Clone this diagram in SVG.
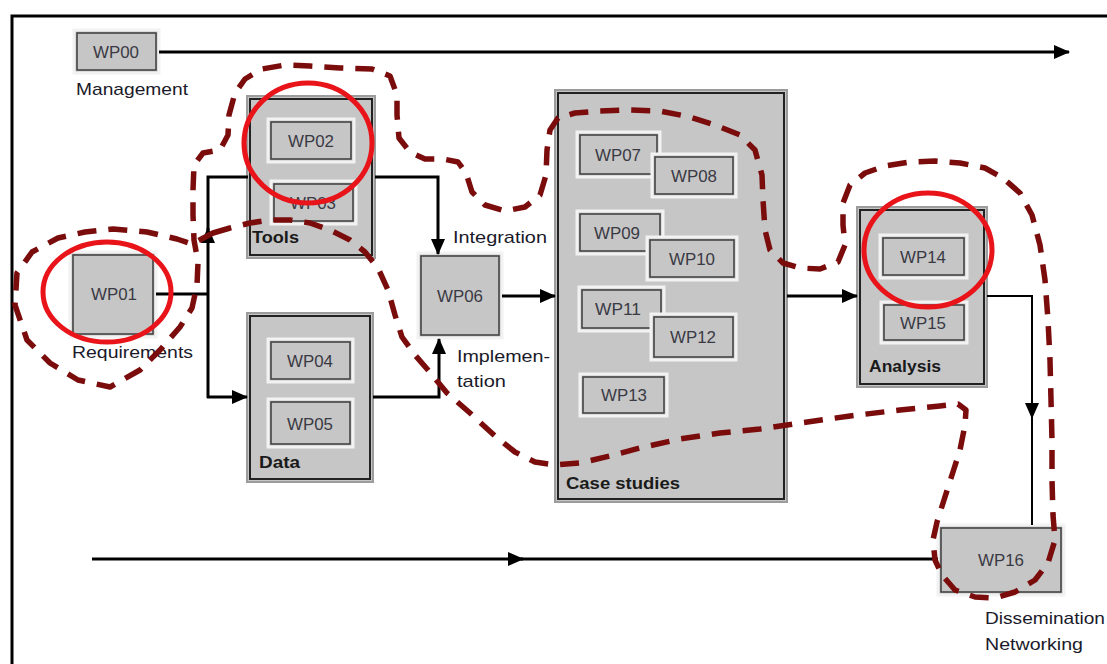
<svg xmlns="http://www.w3.org/2000/svg" width="1107" height="664" viewBox="0 0 1107 664">
<defs>
<marker id="ah" markerUnits="userSpaceOnUse" markerWidth="16" markerHeight="14" viewBox="0 0 16 14" refX="15" refY="7" orient="auto"><path d="M0,0 L16,7 L0,14 z" fill="#000"/></marker>
<style>
.cont{fill:#c6c6c6;stroke:#9c9c9c;stroke-width:2}
.cin{fill:none;stroke:#222;stroke-width:2}
.wp{fill:#c6c6c6;stroke:#f2f2f2;stroke-width:3}
.wpi{fill:none;stroke:#444;stroke-width:1.6}
.wt{font-family:"Liberation Sans",Arial,sans-serif;font-size:17px;fill:#3a3a44;text-anchor:middle}
.lb{font-family:"Liberation Sans",Arial,sans-serif;font-size:17px;fill:#1a1a2a}
.bl{font-family:"Liberation Sans",Arial,sans-serif;font-size:17px;font-weight:bold;fill:#1a1a1a}
.ln{fill:none;stroke:#000;stroke-width:3}
.thin{fill:none;stroke:#000;stroke-width:2}
.dash{fill:none;stroke:#7a0c0c;stroke-width:5.5;stroke-dasharray:19 12;stroke-linejoin:round}
.ring{fill:none;stroke:#e8141a;stroke-width:5}
</style>
</defs>
<rect width="1107" height="664" fill="#fff"/>
<path d="M12,664 L12,16 L1107,16" fill="none" stroke="#000" stroke-width="3"/>

<g id="wp00"><rect class="wp" x="74" y="30" width="85" height="43"/><rect class="wpi" x="77" y="33" width="79" height="37"/><text class="wt" x="116" y="58" textLength="46" lengthAdjust="spacingAndGlyphs">WP00</text><text class="lb" x="76" y="95" textLength="112" lengthAdjust="spacingAndGlyphs">Management</text></g>

<g id="wp01"><rect class="wp" x="70" y="252" width="86" height="85"/><rect class="wpi" x="73" y="255" width="80" height="79"/><text class="wt" x="114" y="300" textLength="46" lengthAdjust="spacingAndGlyphs">WP01</text><text class="lb" x="72" y="358" textLength="121" lengthAdjust="spacingAndGlyphs">Requirements</text></g>

<g id="tools"><rect class="cont" x="247" y="96" width="128" height="162"/><rect class="cin" x="250" y="99" width="122" height="156"/><text class="bl" x="252" y="243" textLength="47" lengthAdjust="spacingAndGlyphs">Tools</text>
<g id="wp02"><rect class="wp" x="268" y="119" width="86" height="43"/><rect class="wpi" x="271" y="122" width="80" height="37"/><text class="wt" x="311" y="147" textLength="46" lengthAdjust="spacingAndGlyphs">WP02</text></g>
<g id="wp03"><rect class="wp" x="271" y="181" width="85" height="43"/><rect class="wpi" x="274" y="184" width="79" height="37"/><text class="wt" x="313" y="209" textLength="46" lengthAdjust="spacingAndGlyphs">WP03</text></g></g>

<g id="data"><rect class="cont" x="247" y="313" width="126" height="169"/><rect class="cin" x="250" y="316" width="120" height="163" stroke="#777"/><text class="bl" x="259" y="468" textLength="41" lengthAdjust="spacingAndGlyphs">Data</text>
<g id="wp04"><rect class="wp" x="268" y="339" width="85" height="43"/><rect class="wpi" x="271" y="342" width="79" height="37"/><text class="wt" x="310" y="367" textLength="46" lengthAdjust="spacingAndGlyphs">WP04</text></g>
<g id="wp05"><rect class="wp" x="268" y="399" width="85" height="48"/><rect class="wpi" x="271" y="402" width="79" height="42"/><text class="wt" x="310" y="430" textLength="46" lengthAdjust="spacingAndGlyphs">WP05</text></g></g>

<g id="wp06"><rect class="wp" x="418" y="253" width="84" height="85"/><rect class="wpi" x="421" y="256" width="78" height="79"/><text class="wt" x="460" y="302" textLength="46" lengthAdjust="spacingAndGlyphs">WP06</text>
<text class="lb" x="453" y="243" textLength="94" lengthAdjust="spacingAndGlyphs">Integration</text><text class="lb" x="457" y="362" textLength="93" lengthAdjust="spacingAndGlyphs">Implemen-</text><text class="lb" x="457" y="387" textLength="49" lengthAdjust="spacingAndGlyphs">tation</text></g>

<g id="case"><rect class="cont" x="555" y="90" width="232" height="412"/><rect class="cin" x="558" y="93" width="226" height="406" stroke="#555"/><text class="bl" x="566" y="489" textLength="114" lengthAdjust="spacingAndGlyphs">Case studies</text>
<g id="wp07"><rect class="wp" x="577" y="132" width="83" height="45"/><rect class="wpi" x="580" y="135" width="77" height="39"/><text class="wt" x="618" y="161" textLength="46" lengthAdjust="spacingAndGlyphs">WP07</text></g>
<g id="wp08"><rect class="wp" x="652" y="154" width="84" height="43"/><rect class="wpi" x="655" y="157" width="78" height="37"/><text class="wt" x="694" y="182" textLength="46" lengthAdjust="spacingAndGlyphs">WP08</text></g>
<g id="wp09"><rect class="wp" x="577" y="211" width="86" height="43"/><rect class="wpi" x="580" y="214" width="80" height="37"/><text class="wt" x="617" y="239" textLength="46" lengthAdjust="spacingAndGlyphs">WP09</text></g>
<g id="wp10"><rect class="wp" x="647" y="237" width="90" height="43"/><rect class="wpi" x="650" y="240" width="84" height="37"/><text class="wt" x="692" y="265" textLength="46" lengthAdjust="spacingAndGlyphs">WP10</text></g>
<g id="wp11"><rect class="wp" x="579" y="287" width="85" height="44"/><rect class="wpi" x="582" y="290" width="79" height="38"/><text class="wt" x="618" y="315" textLength="46" lengthAdjust="spacingAndGlyphs">WP11</text></g>
<g id="wp12"><rect class="wp" x="651" y="314" width="85" height="46"/><rect class="wpi" x="654" y="317" width="79" height="40"/><text class="wt" x="693" y="343" textLength="46" lengthAdjust="spacingAndGlyphs">WP12</text></g>
<g id="wp13"><rect class="wp" x="580" y="374" width="87" height="42"/><rect class="wpi" x="583" y="377" width="81" height="36"/><text class="wt" x="624" y="401" textLength="46" lengthAdjust="spacingAndGlyphs">WP13</text></g></g>

<g id="analysis"><rect class="cont" x="857" y="207" width="130" height="180"/><rect class="cin" x="860" y="210" width="124" height="174" stroke="#555"/><text class="bl" x="869" y="372" textLength="72" lengthAdjust="spacingAndGlyphs">Analysis</text>
<g id="wp14"><rect class="wp" x="880" y="235" width="87" height="43"/><rect class="wpi" x="883" y="238" width="81" height="37"/><text class="wt" x="923" y="263" textLength="46" lengthAdjust="spacingAndGlyphs">WP14</text></g>
<g id="wp15"><rect class="wp" x="881" y="302" width="86" height="41"/><rect class="wpi" x="884" y="305" width="80" height="35"/><text class="wt" x="923" y="329" textLength="46" lengthAdjust="spacingAndGlyphs">WP15</text></g></g>

<g id="wp16"><rect class="wp" x="938" y="525" width="126" height="70"/><rect class="wpi" x="941" y="528" width="120" height="64" stroke="#888"/><text class="wt" x="1001" y="566" textLength="46" lengthAdjust="spacingAndGlyphs">WP16</text>
<text class="lb" x="985" y="624" textLength="120" lengthAdjust="spacingAndGlyphs">Dissemination</text><text class="lb" x="985" y="650" textLength="98" lengthAdjust="spacingAndGlyphs">Networking</text></g>

<g id="connectors">
<path class="ln" d="M159,52 L1069,52" marker-end="url(#ah)"/>
<path class="ln" d="M156,294 L208,294"/>
<path class="ln" d="M208,398 L208,228" marker-end="url(#ah)"/>
<path class="ln" d="M208,230 L208,177 L248,177"/>
<path class="ln" d="M207,397 L247,397" marker-end="url(#ah)"/>
<path class="ln" d="M375,177 L438,177 L438,254" marker-end="url(#ah)"/>
<path class="ln" d="M373,397 L439,397 L439,339" marker-end="url(#ah)"/>
<path class="ln" d="M502,296 L555,296" marker-end="url(#ah)"/>
<path class="ln" d="M787,296 L857,296" marker-end="url(#ah)"/>
<path class="thin" d="M987,296 L1032,296 L1032,418" marker-end="url(#ah)"/>
<path class="thin" d="M1032,416 L1032,525"/>
<path class="ln" d="M92,559 L523,559" marker-end="url(#ah)"/>
<path class="ln" d="M521,559 L938,559"/>
</g>

<g id="highlights">
<path class="dash" d="M213,233 L230,228 L250,223 L270,220 L290,220 L310,223 L330,230 L350,240 L365,252 L378,268 L388,290 L395,315 L402,337 L415,355 L428,370 L447,393 L470,413 L495,436 L515,452 L535,462 L555,465 L580,463 L610,456 L640,448 L680,439 L720,433 L760,429 L800,423 L850,416 L900,410 L940,406 L958,404 L966,410 L965,425 L960,450 L952,475 L944,500 L937,522 L933,540 L935,560 L942,575 L955,590 L975,597 L995,598 L1015,592 L1035,580 L1048,563 L1055,540 L1053,515 L1052,480 L1052,440 L1051,400 L1050,360 L1048,320 L1045,280 L1040,245 L1032,215 L1020,193 L1003,178 L985,168 L960,163 L935,161 L910,162 L885,166 L865,173 L850,185 L843,203 L843,225 L845,245 L838,262 L820,269 L800,268 L783,263 L770,250 L765,230 L763,200 L762,175 L755,150 L740,135 L715,125 L690,117 L660,111 L630,110 L600,111 L575,113 L558,118 L550,130 L547,150 L546,175 L540,195 L525,207 L505,211 L485,205 L472,192 L466,173 L458,162 L443,159 L425,159 L410,152 L399,138 L397,115 L397,95 L390,76 L372,69 L340,68 L310,66 L285,65 L262,69 L245,79 L235,93 L229,115 L228,135 L220,150 L203,153 L194,165 L193,190 L193,215 L194,240 L198,262 L197,285 L192,308 L180,327 L160,350 L140,370 L110,387 L78,380 L50,363 L27,340 L15,305 L17,273 L32,252 L58,238 L85,232 L113,229 L147,232 L177,239 L192,244 Z"/>
<ellipse class="ring" cx="308" cy="143" rx="64" ry="60"/>
<ellipse class="ring" cx="107" cy="292" rx="64" ry="50"/>
<ellipse class="ring" cx="928" cy="250" rx="64" ry="57"/>
</g>
</svg>
